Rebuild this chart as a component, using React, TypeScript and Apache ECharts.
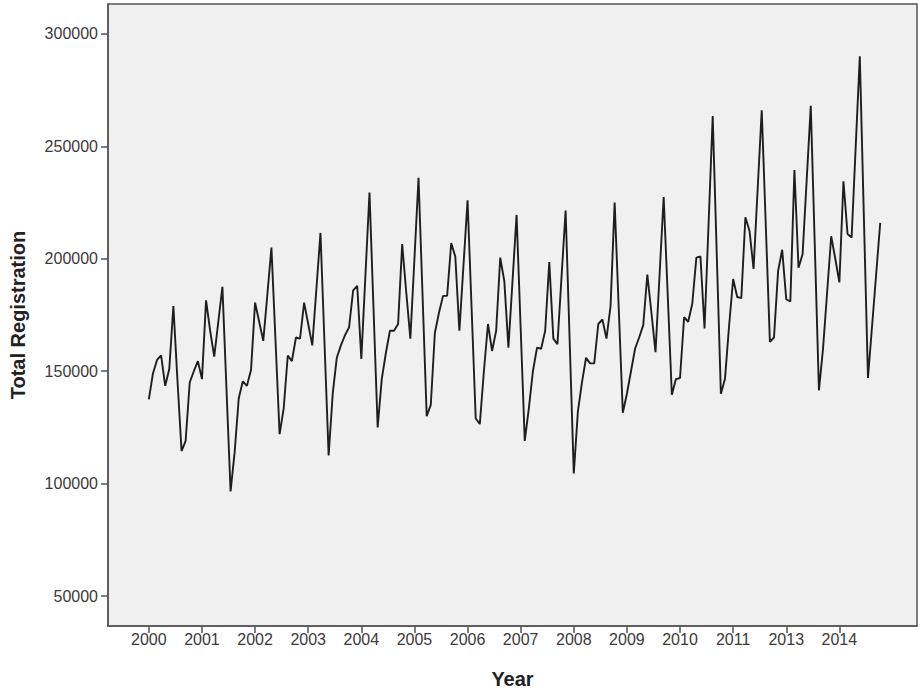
import React, { useEffect, useRef } from "react";
import * as echarts from "echarts";

// Monthly total registrations, Jan 2000 .. Dec 2014 (180 months)
const registrations: number[] = [
  // 2000
  137500, 149000, 155000, 157000, 143500, 151000, 179000, 146000, 114500, 119000, 145000, 150000,
  // 2001
  154500, 146500, 181500, 168000, 156500, 172000, 187500, 142000, 96500, 114000, 138000, 145500,
  // 2002
  143500, 150500, 180500, 172000, 163500, 184000, 205000, 163500, 122000, 133500, 157000, 154500,
  // 2003
  165000, 164500, 180500, 171000, 161500, 186500, 211500, 162000, 112500, 140000, 156000, 161500,
  // 2004
  166000, 169500, 186000, 188000, 155500, 192500, 229500, 177000, 125000, 146500, 158000, 168000,
  // 2005
  168000, 171000, 206500, 185000, 164500, 200000, 236000, 183000, 130000, 135000, 167000, 176000,
  // 2006
  183500, 183500, 207000, 201000, 168000, 197000, 226000, 177500, 129000, 126500, 150000, 171000,
  // 2007
  159000, 168000, 200500, 190000, 160500, 190000, 219500, 169000, 119000, 133500, 150000, 160500,
  // 2008
  160000, 168000, 198500, 164500, 162000, 192000, 221500, 163000, 104500, 132000, 145000, 156000,
  // 2009
  153500, 153500, 171000, 173000, 164500, 179000, 225000, 178000, 131500, 140000, 150000, 160000,
  // 2010
  165000, 170500, 193000, 176000, 158500, 193000, 227500, 183500, 139500, 146500, 147000, 174000,
  // 2011
  172000, 180000, 200500, 201000, 169000, 216000, 263500, 201500, 140000, 146500, 170000, 191000,
  // 2012
  183000, 182500, 218500, 212500, 195500, 231000, 266000, 214500, 163000, 165000, 194500, 204000,
  // 2013
  182000, 181000, 239500, 196000, 202000, 235000, 268000, 205000, 141500, 160000, 185000, 210000,
  // 2014
  200000, 189500, 234500, 211000, 209500, 250000, 290000, 218500, 147000, 170000, 193000, 216000,
];

// Category tick labels as printed on the axis (one every 13th month)
const yearLabels: string[] = [
  "2000", "2001", "2002", "2003", "2004", "2005", "2006",
  "2007", "2008", "2009", "2010", "2011", "2013", "2014",
];
const labelStep = 13;

const yTicks: number[] = [50000, 100000, 150000, 200000, 250000, 300000];

export default function App() {
  const ref = useRef<HTMLDivElement>(null);

  useEffect(() => {
    document.body.style.margin = "0";
    if (!ref.current) return;
    const chart = echarts.init(ref.current, undefined, { renderer: "svg" });
    const xTicks = yearLabels.map((_, k) => k * labelStep);
    const axisColor = "#555555";
    const font = "Liberation Sans, Arial, sans-serif";

    chart.setOption({
      animation: false,
      backgroundColor: "#ffffff",
      grid: {
        left: 108,
        right: 3,
        top: 4,
        bottom: 66,
        show: true,
        backgroundColor: "#f0f0f0",
        borderColor: axisColor,
        borderWidth: 1.5,
      },
      xAxis: {
        type: "value",
        min: -10,
        max: 188,
        axisLine: { show: true, onZero: false, lineStyle: { color: axisColor, width: 1.5 } },
        axisTick: {
          show: true,
          customValues: xTicks,
          length: 7,
          lineStyle: { color: axisColor, width: 1.5 },
        },
        axisLabel: {
          customValues: xTicks,
          formatter: (v: number) => {
            const k = xTicks.indexOf(Math.round(v));
            return k >= 0 ? yearLabels[k] : "";
          },
          fontFamily: font,
          fontSize: 16,
          color: "#3a3a3a",
          margin: 5,
        },
        splitLine: { show: false },
        name: "Year",
        nameLocation: "middle",
        nameGap: 43,
        nameTextStyle: { fontFamily: font, fontWeight: "bold", fontSize: 20, color: "#222222" },
      },
      yAxis: {
        type: "value",
        min: 36700,
        max: 313300,
        axisLine: { show: true, onZero: false, lineStyle: { color: axisColor, width: 1.5 } },
        axisTick: {
          show: true,
          customValues: yTicks,
          length: 7,
          lineStyle: { color: axisColor, width: 1.5 },
        },
        axisLabel: {
          customValues: yTicks,
          formatter: (v: number) => String(v),
          fontFamily: font,
          fontSize: 16,
          color: "#3a3a3a",
          margin: 10,
        },
        splitLine: { show: false },
        name: "Total Registration",
        nameLocation: "middle",
        nameRotate: 90,
        nameGap: 80,
        nameTextStyle: { fontFamily: font, fontWeight: "bold", fontSize: 20, color: "#222222" },
      },
      series: [
        {
          type: "line",
          data: registrations.map((v, i) => [i, v]),
          showSymbol: false,
          symbol: "none",
          lineStyle: { color: "#1e1e1e", width: 1.9 },
          emphasis: { disabled: true },
        },
      ],
    });

    return () => chart.dispose();
  }, []);

  return <div ref={ref} style={{ width: 920, height: 694 }} />;
}
